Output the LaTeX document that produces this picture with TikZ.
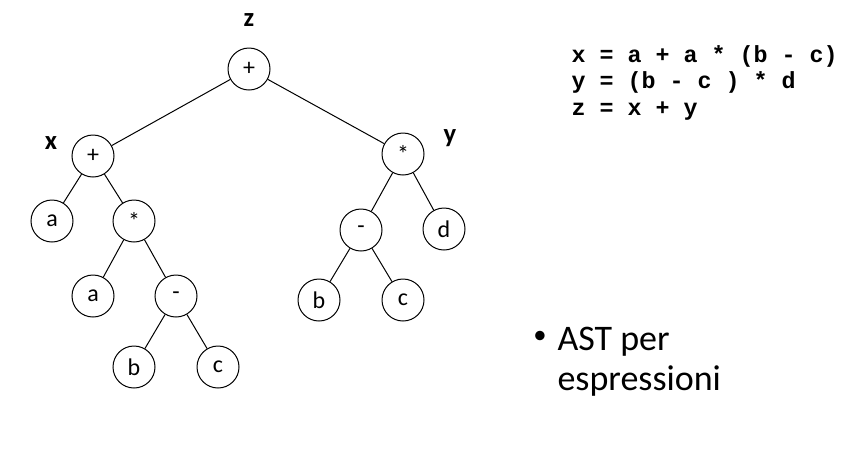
\documentclass[tikz,border=0pt]{standalone}
\usepackage{fontspec}
\setmainfont{Carlito}
\newfontfamily\codefont{Liberation Mono}

\begin{document}
\begin{tikzpicture}[x=0.75pt, y=-0.75pt, line width=0.75pt]
    \tikzset{
        astnode/.style={draw, circle, minimum size=31.5pt, inner sep=0pt, font=\fontsize{18}{20}\selectfont},
        varlabel/.style={font=\fontsize{20}{22}\selectfont\bfseries},
        codeline/.style={anchor=base west, inner sep=0pt, font=\fontsize{17.5}{20}\selectfont\codefont\bfseries}
    }
    \useasboundingbox (0,0) rectangle (856,451);

    % Tree for x
    \node[astnode] (root) at (249,69) {+};
    \node[astnode] (xplus) at (93,156) {+};
    \node[astnode] (xa) at (52,221) {a};
    \node[astnode] (xtimes) at (134,221) {*};
    \node[astnode] (xa2) at (93,296) {a};
    \node[astnode] (xminus) at (176,296) {-};
    \node[astnode] (xb) at (134,367) {b};
    \node[astnode] (xc) at (218,367) {c};
    % Tree for y
    \node[astnode] (ytimes) at (403,154) {*};
    \node[astnode] (yminus) at (361,230) {-};
    \node[astnode] (yd) at (444,229) {d};
    \node[astnode] (yb) at (319,300) {b};
    \node[astnode] (yc) at (403,300) {c};

    % Edges
    \draw (root) -- (xplus);
    \draw (root) -- (ytimes);
    \draw (xplus) -- (xa);
    \draw (xplus) -- (xtimes);
    \draw (xtimes) -- (xa2);
    \draw (xtimes) -- (xminus);
    \draw (xminus) -- (xb);
    \draw (xminus) -- (xc);
    \draw (ytimes) -- (yminus);
    \draw (ytimes) -- (yd);
    \draw (yminus) -- (yb);
    \draw (yminus) -- (yc);

    % Variable names
    \node[varlabel] (zlab) at (249,20) {z};
    \node[varlabel] (xlab) at (51,143) {x};
    \node[varlabel] (ylab) at (450,138) {y};

    % Assignments
    \node[codeline] (line1) at (571,62) {x = a + a * (b - c)};
    \node[codeline] (line2) at (571,88) {y = (b - c ) * d};
    \node[codeline] (line3) at (571,115) {z = x + y};

    % Bullet text
    \node[font=\fontsize{20}{24}\selectfont] (dot) at (540,337) {•};
    \node[anchor=base west, inner sep=0pt, font=\fontsize{27}{30}\selectfont] (ast) at (557,350) {AST per};
    \node[anchor=base west, inner sep=0pt, font=\fontsize{27}{30}\selectfont] (espr) at (557,390) {espressioni};
\end{tikzpicture}
\end{document}
